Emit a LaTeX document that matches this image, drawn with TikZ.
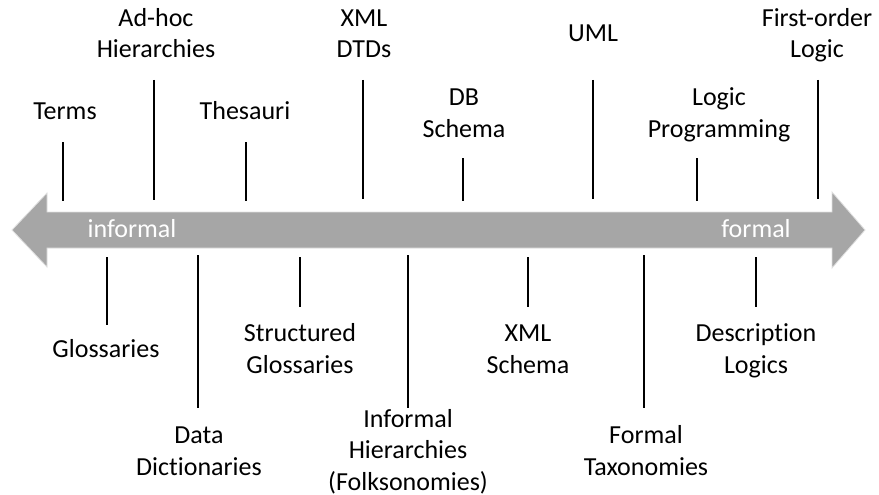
\documentclass[tikz,border=0pt]{standalone}
\usepackage{fontspec}
\setmainfont[Ligatures=NoCommon]{Carlito}
\definecolor{arrowgray}{HTML}{A6A6A6}
\begin{document}
\begin{tikzpicture}[x=1pt,y=-1pt,
  lbl/.style={anchor=base,align=center,inner sep=0pt,
    font=\fontsize{26}{31.5}\selectfont},
  endlbl/.style={anchor=base,inner sep=0pt,text=white,
    font=\fontsize{26}{31.5}\selectfont},
  tick/.style={draw=black,line width=1.1pt}]
\useasboundingbox (0,0) rectangle (879,495);

% double-headed scale arrow
\path[fill=arrowgray,draw=gray!25,line width=0.8pt]
  (12,230) -- (47,193) -- (47,212) -- (832,212) -- (832,192)
  -- (865,230) -- (832,268) -- (832,248) -- (47,248) -- (47,267) -- cycle;
\node[endlbl] (informal) at (132,237) {informal};
\node[endlbl] (formal) at (756,237) {formal};

% labels above the scale (placed by the baseline of their last line)
\node[lbl] (terms)  at (65,120)  {Terms};
\node[lbl] (adhoc)  at (156,58)  {Ad-hoc\\Hierarchies};
\node[lbl] (thes)   at (245,120) {Thesauri};
\node[lbl] (dtd)    at (364,58)  {XML\\DTDs};
\node[lbl] (db)     at (464,137) {DB\\Schema};
\node[lbl] (uml)    at (593,42)  {UML};
\node[lbl] (lp)     at (719,137) {Logic\\Programming};
\node[lbl] (fol)    at (817,58)  {First-order\\Logic};

% labels below the scale
\node[lbl] (gloss)  at (106,357) {Glossaries};
\node[lbl] (dict)   at (199,475) {Data\\Dictionaries};
\node[lbl] (sgloss) at (300,373) {Structured\\Glossaries};
\node[lbl] (folk)   at (408,490) {Informal\\Hierarchies\\(Folksonomies)};
\node[lbl] (xsd)    at (528,373) {XML\\Schema};
\node[lbl] (tax)    at (646,475) {Formal\\Taxonomies};
\node[lbl] (dl)     at (756,373) {Description\\Logics};

% tick end points
\coordinate (terms-a) at (63,142);   \coordinate (terms-b) at (63,201);
\coordinate (adhoc-a) at (154,80);   \coordinate (adhoc-b) at (154,200);
\coordinate (thes-a)  at (246,142);  \coordinate (thes-b)  at (246,201);
\coordinate (dtd-a)   at (363,80);   \coordinate (dtd-b)   at (363,199);
\coordinate (db-a)    at (463,158);  \coordinate (db-b)    at (463,201);
\coordinate (uml-a)   at (593,80);   \coordinate (uml-b)   at (593,199);
\coordinate (lp-a)    at (697,158);  \coordinate (lp-b)    at (697,201);
\coordinate (fol-a)   at (818,80);   \coordinate (fol-b)   at (818,199);

\coordinate (gloss-a)  at (107,257); \coordinate (gloss-b)  at (107,325);
\coordinate (dict-a)   at (198,255); \coordinate (dict-b)   at (198,408);
\coordinate (sgloss-a) at (300,257); \coordinate (sgloss-b) at (300,307);
\coordinate (folk-a)   at (408,255); \coordinate (folk-b)   at (408,408);
\coordinate (xsd-a)    at (528,257); \coordinate (xsd-b)    at (528,307);
\coordinate (tax-a)    at (644,255); \coordinate (tax-b)    at (644,408);
\coordinate (dl-a)     at (756,257); \coordinate (dl-b)     at (756,307);

\foreach \t in {terms,adhoc,thes,dtd,db,uml,lp,fol,gloss,dict,sgloss,folk,xsd,tax,dl}
  \draw[tick] (\t-a) -- (\t-b);
\end{tikzpicture}
\end{document}
